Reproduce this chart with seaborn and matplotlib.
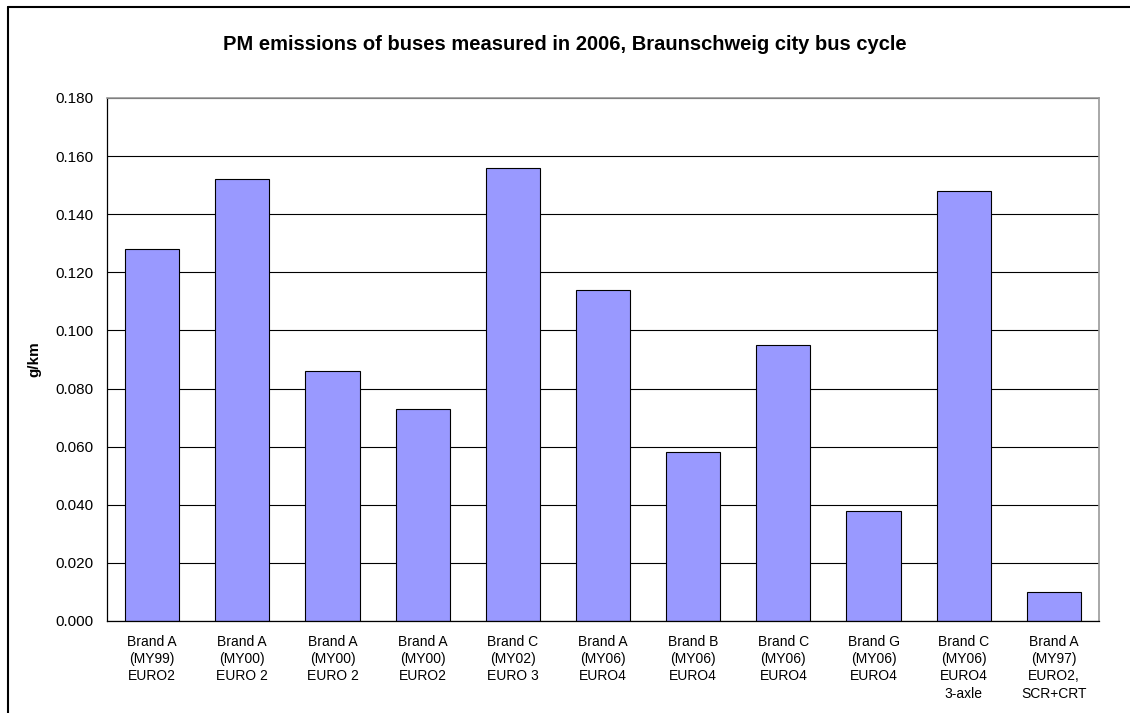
import pandas as pd
import seaborn as sns
import matplotlib
matplotlib.use('Agg')
import matplotlib.pyplot as plt
from matplotlib.lines import Line2D
from matplotlib.ticker import MultipleLocator, FixedLocator

# bus labels and measured PM values (g/km)
buses = [
    'Brand A\n(MY99)\nEURO2',
    'Brand A\n(MY00)\nEURO 2',
    'Brand A\n(MY00)\nEURO 2',
    'Brand A\n(MY00)\nEURO2',
    'Brand C\n(MY02)\nEURO 3',
    'Brand A\n(MY06)\nEURO4',
    'Brand B\n(MY06)\nEURO4',
    'Brand C\n(MY06)\nEURO4',
    'Brand G\n(MY06)\nEURO4',
    'Brand C\n(MY06)\nEURO4\n3-axle',
    'Brand A\n(MY97)\nEURO2,\nSCR+CRT',
]
pm_values = [0.128, 0.152, 0.086, 0.073, 0.156, 0.114, 0.058, 0.095, 0.038, 0.148, 0.010]

sns.set_style('white')
plt.rcParams['font.family'] = ['Liberation Sans', 'DejaVu Sans']
plt.rcParams['text.color'] = 'black'
plt.rcParams['axes.labelcolor'] = 'black'
plt.rcParams['xtick.color'] = 'black'
plt.rcParams['ytick.color'] = 'black'

df = pd.DataFrame({'bus': range(len(buses)), 'pm': pm_values})

fig = plt.figure(figsize=(11.3, 7.13), dpi=100)
ax = fig.add_axes([107 / 1130, 92 / 713, 992 / 1130, 523 / 713])

sns.barplot(data=df, x='bus', y='pm', color='#9999FF', edgecolor='black',
            linewidth=0.8, width=0.6, saturation=1, ax=ax)

ax.set_ylim(0, 0.18)
ax.set_xlim(-0.5, len(buses) - 0.5)
ax.yaxis.set_major_locator(MultipleLocator(0.02))
ax.yaxis.set_major_formatter(matplotlib.ticker.FormatStrFormatter('%.3f'))
ax.yaxis.grid(True, color='black', linewidth=0.8)
ax.set_axisbelow(True)

ax.set_xticks(range(len(buses)))
ax.set_xticklabels(buses, fontsize=10, linespacing=1.3, va='top')
ax.xaxis.set_minor_locator(FixedLocator([i - 0.5 for i in range(len(buses) + 1)]))
ax.tick_params(axis='x', which='major', length=0, pad=10)
ax.tick_params(axis='x', which='minor', length=6, width=0.8, direction='out', color='black')
ax.tick_params(axis='y', length=6, width=0.8, direction='out', color='black', labelsize=11, pad=4)

ax.set_xlabel('')
ax.set_ylabel('g/km', fontsize=11, fontweight='bold', labelpad=10)

for side in ['left', 'bottom']:
    ax.spines[side].set_color('black')
    ax.spines[side].set_linewidth(0.9)
for side in ['top', 'right']:
    ax.spines[side].set_visible(True)
    ax.spines[side].set_color('#999999')
    ax.spines[side].set_linewidth(1.2)

fig.suptitle('PM emissions of buses measured in 2006, Braunschweig city bus cycle',
             fontsize=14.5, fontweight='bold', color='black',
             y=1 - 44 / 713, va='center')

# outer chart border (left and top edges visible)
x0, y0 = 7.5 / 1130, 1 - 6.5 / 713
fig.add_artist(Line2D([x0, x0], [0, y0], color='black', linewidth=1.5, transform=fig.transFigure))
fig.add_artist(Line2D([x0, 1], [y0, y0], color='black', linewidth=1.5, transform=fig.transFigure))

fig.savefig('out.png', dpi=100)
